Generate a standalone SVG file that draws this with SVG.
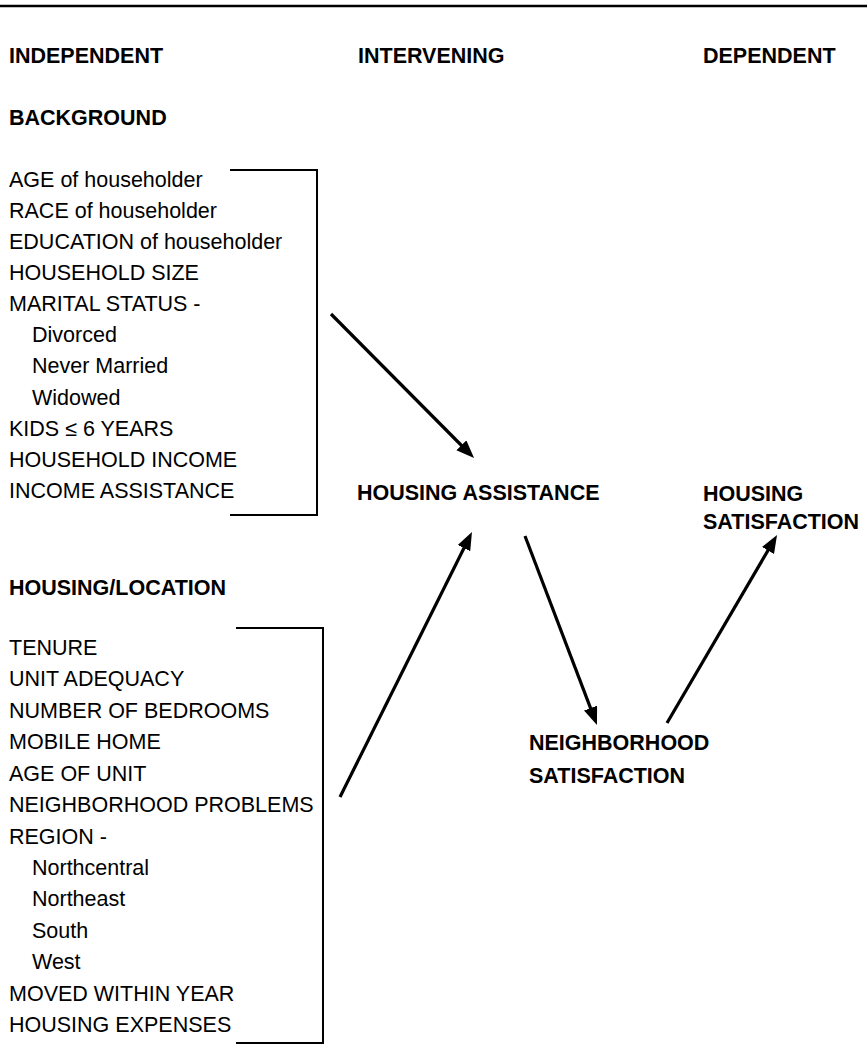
<svg xmlns="http://www.w3.org/2000/svg" width="867" height="1064" viewBox="0 0 867 1064">
<style>
text{font-family:"Liberation Sans",Arial,sans-serif;font-size:21.5px;fill:#000}
.b{font-weight:bold}
.br{fill:none;stroke:#000;stroke-width:2}
.ar{stroke:#000;stroke-width:3.2;fill:none;marker-end:url(#ah)}
</style>
<defs>
<marker id="ah" markerUnits="userSpaceOnUse" markerWidth="20" markerHeight="16" refX="8" refY="7" orient="auto" viewBox="0 0 20 16">
<path d="M0,0 L18,7 L0,14 z" fill="#000"/>
</marker>
</defs>
<rect width="867" height="1064" fill="#fff"/>
<line x1="0" y1="6" x2="867" y2="6" stroke="#000" stroke-width="2.5"/>
<g id="headers">
<text class="b" x="9" y="63">INDEPENDENT</text>
<text class="b" x="358" y="63">INTERVENING</text>
<text class="b" x="703" y="63">DEPENDENT</text>
</g>
<g id="background">
<text class="b" x="9" y="125">BACKGROUND</text>
<text x="9" y="187">AGE of householder</text>
<text x="9" y="218">RACE of householder</text>
<text x="9" y="249">EDUCATION of householder</text>
<text x="9" y="280">HOUSEHOLD SIZE</text>
<text x="9" y="311">MARITAL STATUS -</text>
<text x="32" y="342">Divorced</text>
<text x="32" y="373">Never Married</text>
<text x="32" y="405">Widowed</text>
<text x="9" y="436">KIDS ≤ 6 YEARS</text>
<text x="9" y="467">HOUSEHOLD INCOME</text>
<text x="9" y="498">INCOME ASSISTANCE</text>
<path class="br" d="M230,170 H317 V515 H230"/>
</g>
<g id="housing-location">
<text class="b" x="9" y="595">HOUSING/LOCATION</text>
<text x="9" y="655">TENURE</text>
<text x="9" y="686">UNIT ADEQUACY</text>
<text x="9" y="718">NUMBER OF BEDROOMS</text>
<text x="9" y="749">MOBILE HOME</text>
<text x="9" y="781">AGE OF UNIT</text>
<text x="9" y="812">NEIGHBORHOOD PROBLEMS</text>
<text x="9" y="844">REGION -</text>
<text x="32" y="875">Northcentral</text>
<text x="32" y="906">Northeast</text>
<text x="32" y="938">South</text>
<text x="32" y="969">West</text>
<text x="9" y="1001">MOVED WITHIN YEAR</text>
<text x="9" y="1032">HOUSING EXPENSES</text>
<path class="br" d="M236,628 H323 V1043 H236"/>
</g>
<g id="housing-assistance">
<text class="b" x="357" y="500">HOUSING ASSISTANCE</text>
</g>
<g id="housing-satisfaction">
<text class="b" x="703" y="501">HOUSING</text>
<text class="b" x="703" y="529">SATISFACTION</text>
</g>
<g id="neighborhood-satisfaction">
<text class="b" x="529" y="750">NEIGHBORHOOD</text>
<text class="b" x="529" y="783">SATISFACTION</text>
</g>
<g id="connectors">
<line class="ar" x1="331" y1="314" x2="467" y2="451"/>
<line class="ar" x1="340" y1="797" x2="467.5" y2="541"/>
<line class="ar" x1="525" y1="536" x2="593.4" y2="715.6"/>
<line class="ar" x1="667" y1="723" x2="772" y2="543.6"/>
</g>
</svg>
